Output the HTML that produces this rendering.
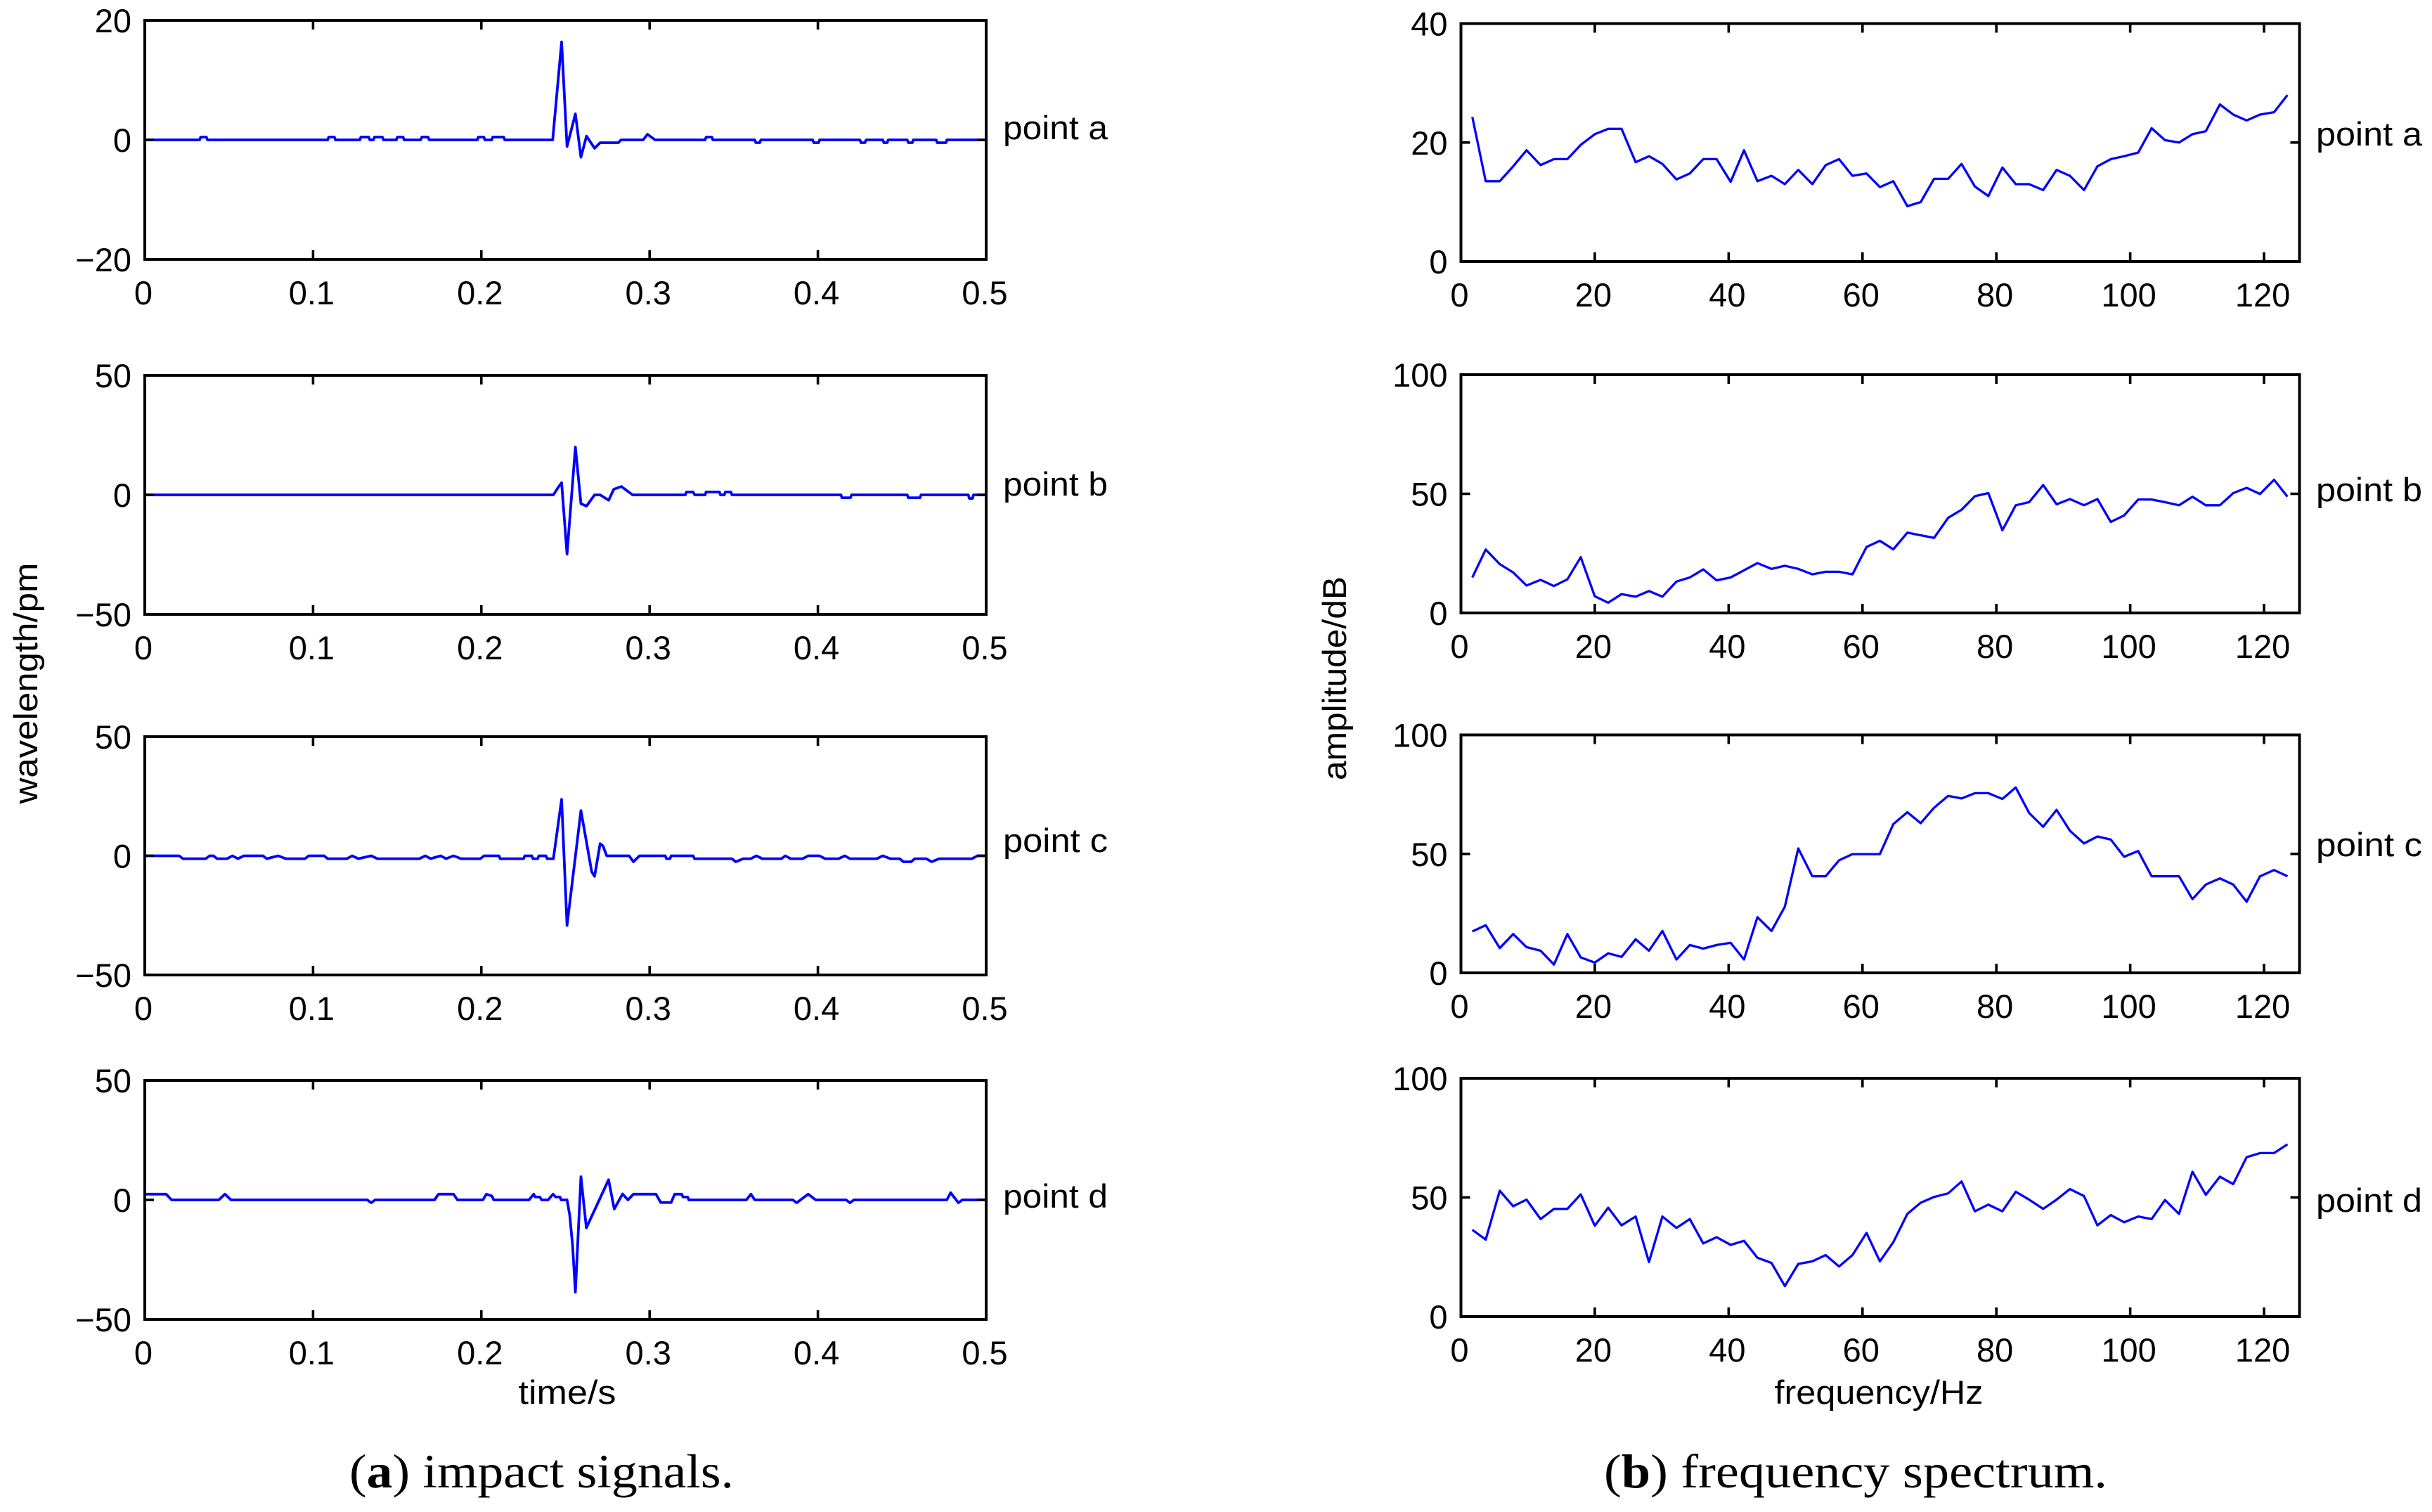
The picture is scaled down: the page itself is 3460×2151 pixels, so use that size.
<!DOCTYPE html>
<html lang="en">
<head>
<meta charset="utf-8">
<title>Impact signals and frequency spectrum</title>
<style>
html,body{margin:0;padding:0;background:#fff;}
svg{display:block;}
.label{font-family:"Liberation Sans",sans-serif;font-size:47px;fill:#000;}
.caption{font-family:"Liberation Serif",serif;font-size:68px;fill:#000;}
</style>
</head>
<body>
<svg id="figure" xmlns="http://www.w3.org/2000/svg" width="3460" height="2151" viewBox="0 0 3460 2151">
  <rect x="0" y="0" width="3460" height="2151" fill="#fff"/>

  <text class="label" transform="translate(53 972) rotate(-90)" text-anchor="middle" textLength="343" lengthAdjust="spacingAndGlyphs">wavelength/pm</text>
  <text class="label" x="807" y="1997" text-anchor="middle" textLength="139" lengthAdjust="spacingAndGlyphs">time/s</text>
  <text class="label" transform="translate(1915 965) rotate(-90)" text-anchor="middle" textLength="290" lengthAdjust="spacingAndGlyphs">amplitude/dB</text>
  <text class="label" x="2673" y="1997" text-anchor="middle" textLength="297" lengthAdjust="spacingAndGlyphs">frequency/Hz</text>

  <text class="label" x="1427" y="198" textLength="149" lengthAdjust="spacingAndGlyphs">point a</text>
  <text class="label" x="1427" y="705" textLength="149" lengthAdjust="spacingAndGlyphs">point b</text>
  <text class="label" x="1427" y="1212" textLength="149" lengthAdjust="spacingAndGlyphs">point c</text>
  <text class="label" x="1427" y="1718" textLength="149" lengthAdjust="spacingAndGlyphs">point d</text>

  <text class="label" x="3295" y="207" textLength="151" lengthAdjust="spacingAndGlyphs">point a</text>
  <text class="label" x="3295" y="713" textLength="151" lengthAdjust="spacingAndGlyphs">point b</text>
  <text class="label" x="3295" y="1218" textLength="151" lengthAdjust="spacingAndGlyphs">point c</text>
  <text class="label" x="3295" y="1724" textLength="151" lengthAdjust="spacingAndGlyphs">point d</text>

  <text class="caption" x="497" y="2116" textLength="547" lengthAdjust="spacingAndGlyphs">(<tspan font-weight="bold">a</tspan>) impact signals.</text>
  <text class="caption" x="2282" y="2116" textLength="716" lengthAdjust="spacingAndGlyphs">(<tspan font-weight="bold">b</tspan>) frequency spectrum.</text>
</svg>

<script>
// ---- Chart data ----
const timeTickValues = [0, 0.1, 0.2, 0.3, 0.4, 0.5];
const timeTickLabels = ['0', '0.1', '0.2', '0.3', '0.4', '0.5'];
const frequencyTickValues = [0, 20, 40, 60, 80, 100, 120];
const frequencyTickLabels = ['0', '20', '40', '60', '80', '100', '120'];
const signalATickValues = [-20, 0, 20];
const signalATickLabels = ['\u221220', '0', '20'];
const signalTickValues = [-50, 0, 50];
const signalTickLabels = ['\u221250', '0', '50'];
const spectrumATickValues = [0, 20, 40];
const spectrumATickLabels = ['0', '20', '40'];
const spectrumTickValues = [0, 50, 100];
const spectrumTickLabels = ['0', '50', '100'];

const signalATimes = [
  0,
  .0326,.0332,.0366,.0372,
  .1087,.1093,.1127,.1133,
  .1278,.1284,.1331,.1337,
  .1359,.1365,.1412,.1418,
  .1495,.1501,.1535,.1541,
  .164,.1646,.1684,.169,
  .1976,.1982,.2015,.2021,
  .2062,.2068,.2133,.2139,
  .2424,.2477,.2509,.2559,.2592,.2625,.2673,.2706,.2815,.283,.2962,.2987,.301,.3032,
  .333,.3336,.337,.3376,
  .3625,.3631,.3655,.3661,
  .3969,.3975,.4004,.401,
  .425,.4256,.428,.4286,
  .4386,.4392,.4412,.4418,
  .4531,.4537,.4561,.4567,
  .4703,.4709,.4761,.4767,
  .5
];
const signalAValues = [
  0,
  0,.47,.47,0,
  0,.47,.47,0,
  0,.47,.47,0,
  0,.47,.47,0,
  0,.47,.47,0,
  0,.47,.47,0,
  0,.47,.47,0,
  0,.47,.47,0,
  0,16.4,-1.1,4.35,-2.9,.63,-1.4,-.47,-.47,0,0,.94,.47,0,
  0,.47,.47,0,
  0,-.47,-.47,0,
  0,-.47,-.47,0,
  0,-.47,-.47,0,
  0,-.47,-.47,0,
  0,-.47,-.47,0,
  0,-.47,-.47,0,
  0
];

const signalBTimes = [
  0,.2428,.2456,.2477,.2509,.2559,.2592,.2625,.2673,.2706,.2757,.2787,.2832,.2899,
  .3212,.3219,.3258,.3268,
  .333,.3336,.3415,.3421,
  .3444,.345,.3483,.3489,
  .4137,.4143,.4194,.42,
  .4531,.4537,.4607,.4613,
  .4894,.49,.4919,.4925,
  .5
];
const signalBValues = [
  0,0,3.1,5.1,-24.8,20,-3.7,-4.7,0,0,-2.25,2.35,3.5,0,
  0,1.2,1.2,0,
  0,1.2,1.2,0,
  0,1.2,1.2,0,
  0,-1.2,-1.2,0,
  0,-1.2,-1.2,0,
  0,-1.5,-1.5,0,
  0
];

const signalCTimes = [
  0,.0204,.0227,.0362,.0385,.0408,.043,.0489,.0521,.0553,
  .0589,.0702,.0725,.0793,.0838,.0952,.0974,.1065,.1087,.1201,
  .1232,.1269,.1346,.1382,.1631,.1667,.1699,.1758,.179,.1835,
  .188,.1994,.2016,.2105,.2112,.2251,.2258,.23,.2307,.2335,
  .2342,.2384,.2391,.2428,
  .2477,.2509,.2592,.2656,.2673,.2706,.2723,.2745,.2878,.2904,
  .294,.3093,.31,.3121,.3128,.3258,.3267,
  .3489,.3512,.3557,.3602,.3634,.367,.3783,.3806,.3838,
  .391,.3942,.401,.4042,.4123,.416,.4191,.435,.4386,.4431,
  .4486,.4508,.4554,.4576,.4644,.4676,.4721,.4916,.4948,.5
];
const signalCValues = [
  0,0,-1.2,-1.2,0,0,-1.2,-1.2,0,-1.2,
  0,0,-1.2,0,-1.2,-1.2,0,0,-1.2,-1.2,
  0,-1.2,0,-1.2,-1.2,0,-1.2,0,-1.2,0,
  -1.2,-1.2,0,0,-1.2,-1.2,0,0,-1.2,-1.2,
  0,0,-1.2,-1.2,
  23.7,-29.2,19,-6.7,-8.6,5.1,4.1,0,0,-2.5,
  0,0,-1.2,-1.2,0,0,-1.2,
  -1.2,-2.5,-1.2,-1.2,0,-1.2,-1.2,0,-1.2,
  -1.2,0,0,-1.2,-1.2,0,-1.2,-1.2,0,-1.2,
  -1.2,-2.5,-2.5,-1.2,-1.2,-2.5,-1.2,-1.2,0,0
];

const signalDTimes = [
  0,.0127,.0159,.044,.0476,.0512,.1322,.1346,.1369,.1722,
  .1745,.1835,.1858,.2009,.203,.2063,.2074,.2283,.2311,.2321,
  .2348,.2358,.2397,.2426,.2442,.2467,.2474,.2509,.2525,.2542,
  .2559,.2592,.2624,.2756,.279,.2839,.2871,.2904,.3038,.3066,
  .3128,.3149,.3191,.3198,.3226,.3233,.3575,.3602,.3625,.3851,
  .3874,.3942,.3987,.4168,.4191,.4214,.4766,.4789,.4835,.4858,
  .5
];
const signalDValues = [
  2.4,2.4,0,0,2.4,0,0,-1.2,0,0,
  2.4,2.4,0,0,2.4,1.6,0,0,2.4,1.2,
  1.2,0,0,2.4,1.2,1.2,0,0,-6.3,-19,
  -38.6,9.7,-11.7,8.4,-3.8,2.5,0,2.4,2.4,-1.1,
  -1.1,2.4,2.4,1.2,1.2,0,0,2.4,0,0,
  -1.2,2.4,0,0,-1.2,0,0,3,-1.2,0,
  0
];

const spectrumFrequencies = [
  1.7,3.7,5.8,7.8,9.8,11.9,13.9,15.9,17.9,20,
  22,24,26.1,28.1,30.1,32.2,34.2,36.2,38.2,40.3,
  42.3,44.3,46.4,48.4,50.4,52.5,54.5,56.5,58.5,60.6,
  62.6,64.6,66.7,68.7,70.7,72.8,74.8,76.8,78.8,80.9,
  82.9,84.9,87,89,91,93.1,95.1,97.1,99.1,101.2,
  103.2,105.2,107.3,109.3,111.3,113.4,115.4,117.4,119.4,121.5,
  123.5
];
const spectrumAValues = [
  24.3,13.5,13.5,16,18.7,16.2,17.2,17.2,19.6,21.4,
  22.3,22.3,16.7,17.7,16.4,13.8,14.8,17.2,17.2,13.4,
  18.7,13.5,14.4,13,15.4,13,16.2,17.2,14.4,14.8,
  12.5,13.5,9.3,10,13.9,13.9,16.4,12.6,11,15.8,
  13,13,12,15.4,14.4,12,16,17.2,17.7,18.3,
  22.4,20.4,20,21.4,21.9,26.4,24.7,23.7,24.7,25.1,
  28
];
const spectrumBValues = [
  14.9,26.6,20.5,17,11.5,13.9,11.3,14.1,23.4,7,
  4.3,7.9,6.8,9.2,6.8,13.2,14.9,18.3,13.7,14.9,
  17.9,20.9,18.5,19.8,18.5,16.2,17.3,17.3,16.2,27.7,
  30.3,26.7,33.7,32.6,31.5,39.9,43.3,49,50.3,34.7,
  45.2,46.5,53.7,45.6,47.8,45.2,47.8,38.2,40.9,47.6,
  47.6,46.5,45.2,48.8,45.2,45.2,50.3,52.5,49.9,55.9,
  48.8
];
const spectrumCValues = [
  17.4,20,10.4,16.3,10.8,9.3,3.5,16.3,6.5,4.3,
  8.2,6.7,14.1,9.3,17.6,5.6,11.7,10.2,11.7,12.6,
  5.6,23.4,17.6,27.8,52.3,40.6,40.6,47.3,49.9,49.9,
  49.9,62.5,67.5,62.9,69.4,74.4,73.3,75.5,75.5,73.1,
  77.9,67.2,61.4,68.5,59.7,54.4,57.3,56,48.8,51.2,
  40.6,40.6,40.6,31,37.1,39.7,37.1,29.9,40.6,43.2,
  40.6
];
const spectrumDValues = [
  36.4,32.3,52.8,46.3,49.1,40.9,45.2,45.2,51.3,38.1,
  45.7,38.3,42,22.9,42,37.2,40.9,30.7,33.3,30.1,
  31.8,24.7,22.5,12.8,22.1,23.2,25.8,21,25.8,35.1,
  23.2,31.2,43.1,47.8,50.2,51.7,56.7,44.2,47,44.2,
  52.4,49.1,45.2,49.1,53.5,50.6,38.3,42.6,39.6,42,
  40.9,48.9,43.1,60.8,51.1,58.7,55.6,66.9,68.6,68.6,
  72.3
];

// ---- Drawing ----
const SVG_NS = 'http://www.w3.org/2000/svg';
const figure = document.getElementById('figure');

function addShape(tag, attrs, parent) {
  const node = document.createElementNS(SVG_NS, tag);
  Object.keys(attrs).forEach(function (k) { node.setAttribute(k, attrs[k]); });
  parent.appendChild(node);
  return node;
}

function drawPanel(p) {
  const group = addShape('g', {}, figure);
  
  

  const xScale = function (v) { return p.left + (v - p.xMin) / (p.xMax - p.xMin) * (p.right - p.left); };
  const yScale = function (v) { return p.bottom - (v - p.yMin) / (p.yMax - p.yMin) * (p.bottom - p.top); };
  const tickLen = 13;

  const points = p.xs.map(function (x, i) {
    return xScale(x).toFixed(1) + ',' + yScale(p.ys[i]).toFixed(1);
  }).join(' ');
  const line = addShape('polyline', {
    points: points, fill: 'none', stroke: '#0000ff',
    'stroke-width': p.lineWidth, 'stroke-linejoin': 'round'
  }, group);
  
  

  p.xTicks.forEach(function (v, i) {
    const x = xScale(v);
    const bottomTick = addShape('line', { x1: x, x2: x, y1: p.bottom, y2: p.bottom - tickLen, stroke: '#000', 'stroke-width': 3.6 }, group);
    
    
    const topTick = addShape('line', { x1: x, x2: x, y1: p.top, y2: p.top + tickLen, stroke: '#000', 'stroke-width': 3.6 }, group);
    
    
    const label = addShape('text', { x: x - 2, y: p.bottom + 64, 'text-anchor': 'middle', 'class': 'label' }, group);
    label.textContent = p.xLabels[i];
    
    
  });

  p.yTicks.forEach(function (v, i) {
    const y = yScale(v);
    const leftTick = addShape('line', { x1: p.left, x2: p.left + tickLen, y1: y, y2: y, stroke: '#000', 'stroke-width': 3.6 }, group);
    
    
    const rightTick = addShape('line', { x1: p.right, x2: p.right - tickLen, y1: y, y2: y, stroke: '#000', 'stroke-width': 3.6 }, group);
    
    
    const label = addShape('text', { x: p.left - 19, y: y + 17, 'text-anchor': 'end', 'class': 'label' }, group);
    label.textContent = p.yLabels[i];
    
    
  });

  const frame = addShape('rect', {
    x: p.left, y: p.top, width: p.right - p.left, height: p.bottom - p.top,
    fill: 'none', stroke: '#000', 'stroke-width': 4
  }, group);
  
  
}

const leftColumn = { left: 206, right: 1403, xMin: 0, xMax: 0.5, xTicks: timeTickValues, xLabels: timeTickLabels, lineWidth: 3.8 };
const rightColumn = { left: 2078.5, right: 3271.5, xMin: 0, xMax: 125.3, xTicks: frequencyTickValues, xLabels: frequencyTickLabels, lineWidth: 3.3 };

drawPanel(Object.assign({}, leftColumn, { name: 'signal-point-a', top: 29, bottom: 369, yMin: -20, yMax: 20, yTicks: signalATickValues, yLabels: signalATickLabels, xs: signalATimes, ys: signalAValues }));
drawPanel(Object.assign({}, leftColumn, { name: 'signal-point-b', top: 534, bottom: 874, yMin: -50, yMax: 50, yTicks: signalTickValues, yLabels: signalTickLabels, xs: signalBTimes, ys: signalBValues }));
drawPanel(Object.assign({}, leftColumn, { name: 'signal-point-c', top: 1048, bottom: 1387, yMin: -50, yMax: 50, yTicks: signalTickValues, yLabels: signalTickLabels, xs: signalCTimes, ys: signalCValues }));
drawPanel(Object.assign({}, leftColumn, { name: 'signal-point-d', top: 1537, bottom: 1877, yMin: -50, yMax: 50, yTicks: signalTickValues, yLabels: signalTickLabels, xs: signalDTimes, ys: signalDValues }));

drawPanel(Object.assign({}, rightColumn, { name: 'spectrum-point-a', top: 33.5, bottom: 372, yMin: 0, yMax: 40, yTicks: spectrumATickValues, yLabels: spectrumATickLabels, xs: spectrumFrequencies, ys: spectrumAValues }));
drawPanel(Object.assign({}, rightColumn, { name: 'spectrum-point-b', top: 533, bottom: 872, yMin: 0, yMax: 100, yTicks: spectrumTickValues, yLabels: spectrumTickLabels, xs: spectrumFrequencies, ys: spectrumBValues }));
drawPanel(Object.assign({}, rightColumn, { name: 'spectrum-point-c', top: 1045.5, bottom: 1384, yMin: 0, yMax: 100, yTicks: spectrumTickValues, yLabels: spectrumTickLabels, xs: spectrumFrequencies, ys: spectrumCValues }));
drawPanel(Object.assign({}, rightColumn, { name: 'spectrum-point-d', top: 1534, bottom: 1873, yMin: 0, yMax: 100, yTicks: spectrumTickValues, yLabels: spectrumTickLabels, xs: spectrumFrequencies, ys: spectrumDValues }));
</script>
</body>
</html>
